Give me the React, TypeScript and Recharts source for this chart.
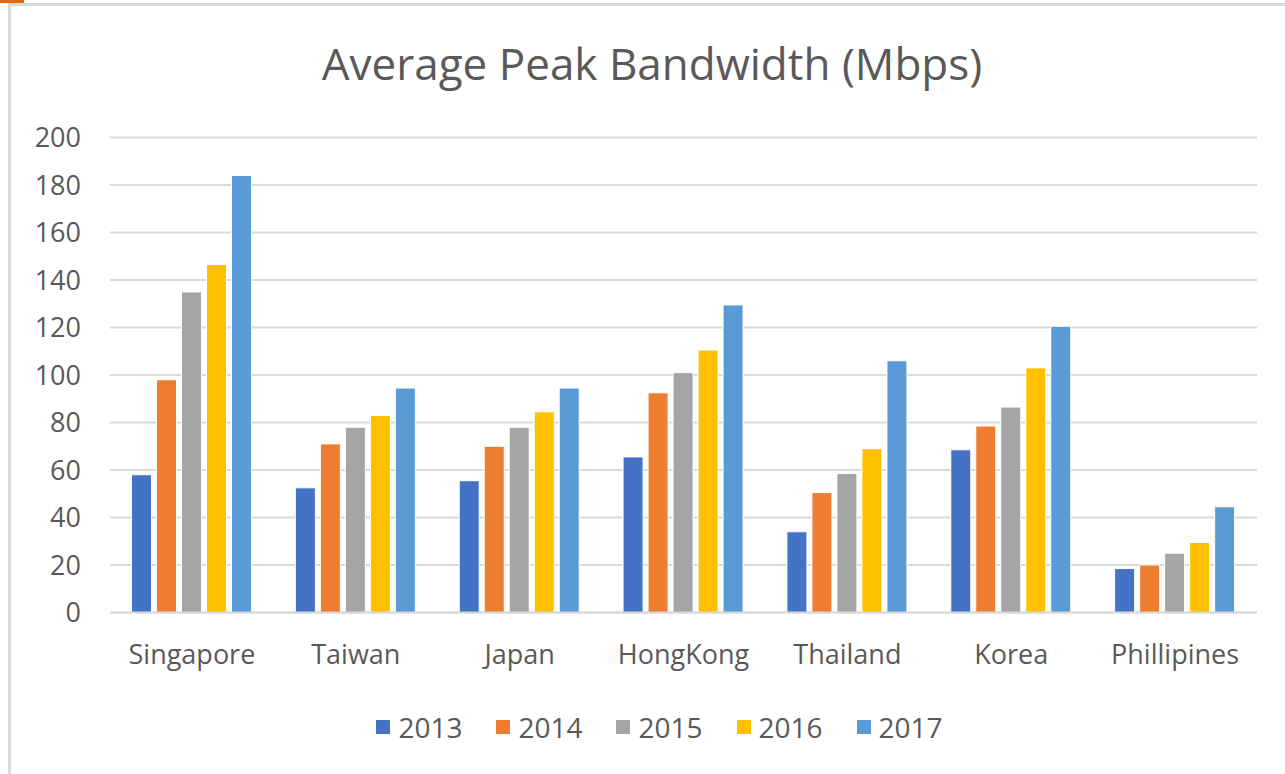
import React from 'react'
import { BarChart, Bar, XAxis, YAxis, CartesianGrid, Legend } from 'recharts'

const categories = ['Singapore', 'Taiwan', 'Japan', 'HongKong', 'Thailand', 'Korea', 'Phillipines']
const years = ['2013', '2014', '2015', '2016', '2017']

const v2013 = [58, 52.5, 55.5, 65.5, 34, 68.5, 18.5]
const v2014 = [98, 71, 70, 92.5, 50.5, 78.5, 20]
const v2015 = [135, 78, 78, 101, 58.5, 86.5, 25]
const v2016 = [146.5, 83, 84.5, 110.5, 69, 103, 29.5]
const v2017 = [184, 94.5, 94.5, 129.5, 106, 120.5, 44.5]

const yTicks = [0, 20, 40, 60, 80, 100, 120, 140, 160, 180, 200]

const SERIES_COLORS = ['#4472C4', '#ED7D31', '#A5A5A5', '#FFC000', '#5B9BD5']
const TEXT = '#595959'
const GRID = '#d9d9d9'
const FONT = '"Open Sans", "Noto Sans", sans-serif'

const seriesValues = [v2013, v2014, v2015, v2016, v2017]

const data = categories.map((name, i) => {
  const row: Record<string, string | number> = { name }
  years.forEach((y, s) => { row[y] = seriesValues[s][i] })
  return row
})

function LegendContent({ payload }: any) {
  return (
    <div style={{ display: 'flex', justifyContent: 'center', alignItems: 'center', height: 40, paddingLeft: 34 }}>
      {(payload || []).map((p: any) => (
        <div key={p.value} style={{ display: 'flex', alignItems: 'center', margin: '0 17px' }}>
          <span style={{ width: 14, height: 14, background: p.color, marginRight: 8, display: 'inline-block' }} />
          <span style={{ fontSize: 28, color: TEXT, fontFamily: FONT }}>{p.value}</span>
        </div>
      ))}
    </div>
  )
}

export default function App() {
  return (
    <div style={{ position: 'absolute', left: 0, top: 0, width: 1285, height: 774, background: '#fff', fontFamily: FONT }}>
      {/* chart frame */}
      <div style={{ position: 'absolute', left: 8, top: 3, width: 1277, height: 771, borderTop: `3px solid ${GRID}`, borderLeft: `3px solid ${GRID}`, boxSizing: 'border-box' }} />
      <div style={{ position: 'absolute', left: 0, top: 0, width: 24, height: 3, background: '#E8650F' }} />

      <svg width={1285} height={110} style={{ position: 'absolute', left: 0, top: 0 }}>
        <text x={652} y={80} textAnchor="middle" fontSize={44} fill={TEXT} fontFamily={FONT}>
          Average Peak Bandwidth (Mbps)
        </text>
      </svg>

      <div style={{ position: 'absolute', left: 0, top: 0 }}>
        <BarChart
          width={1285}
          height={774}
          data={data}
          margin={{ top: 137.5, right: 28, left: 0, bottom: 51.5 }}
          barCategoryGap={21.5}
          barGap={5}
        >
          <CartesianGrid vertical={false} stroke={GRID} strokeWidth={2} />
          <XAxis
            dataKey="name"
            axisLine={{ stroke: GRID, strokeWidth: 2 }}
            tickLine={false}
            tickSize={0}
            tickMargin={32}
            height={70}
            interval={0}
            tick={{ fontSize: 27, fill: TEXT, fontFamily: FONT }}
          />
          <YAxis
            domain={[0, 200]}
            ticks={yTicks}
            axisLine={false}
            tickLine={false}
            tickSize={0}
            tickMargin={29}
            width={110}
            interval={0}
            tick={{ fontSize: 27, fill: TEXT, fontFamily: FONT }}
          />
          <Legend
            verticalAlign="bottom"
            content={<LegendContent />}
            wrapperStyle={{ top: 707, left: 0, width: 1285 }}
          />
          {years.map((y, i) => (
            <Bar key={y} dataKey={y} fill={SERIES_COLORS[i]} stroke="#ffffff" strokeWidth={1} isAnimationActive={false} />
          ))}
        </BarChart>
      </div>
    </div>
  )
}
